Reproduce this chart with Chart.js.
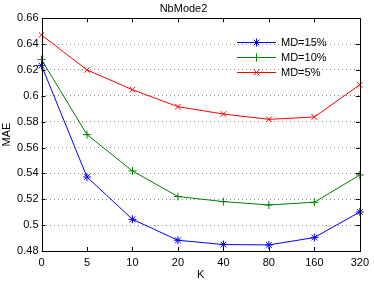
<!DOCTYPE html>
<html>
<head>
<meta charset="utf-8">
<script src="https://cdn.jsdelivr.net/npm/chart.js@4"></script>
<style>
  html, body { margin: 0; padding: 0; background: #fff; }
  #wrap { width: 374px; height: 282px; }
</style>
</head>
<body>
<div id="wrap"><canvas id="c"></canvas></div>
<script>
const kLabels = ['0', '5', '10', '20', '40', '80', '160', '320'];
const md15 = [0.6235, 0.5372, 0.5045, 0.4883, 0.4850, 0.4847, 0.4904, 0.5102];
const md10 = [0.628, 0.570, 0.5419, 0.5221, 0.5182, 0.5156, 0.5177, 0.5388];
const md5 = [0.647, 0.620, 0.6047, 0.5916, 0.5859, 0.5818, 0.5836, 0.6086];
const yTicks = [0.48, 0.5, 0.52, 0.54, 0.56, 0.58, 0.6, 0.62, 0.64, 0.66];

const FONT = 'Liberation Sans, Arial, sans-serif';

// marco, marcas interiores y leyenda al estilo matlab
const matlabBox = {
    id: 'matlabBox',
    afterDraw(chart) {
        const { ctx, chartArea: a, scales } = chart;
        ctx.save();
        ctx.strokeStyle = '#000';
        ctx.lineWidth = 1;
        ctx.beginPath();
        scales.x.ticks.forEach((t, i) => {
            const px = Math.round(scales.x.getPixelForTick(i)) + 0.5;
            ctx.moveTo(px, a.bottom); ctx.lineTo(px, a.bottom - 4);
            ctx.moveTo(px, a.top); ctx.lineTo(px, a.top + 4);
        });
        scales.y.ticks.forEach((t, i) => {
            const py = Math.round(scales.y.getPixelForTick(i)) + 0.5;
            ctx.moveTo(a.left, py); ctx.lineTo(a.left + 4, py);
            ctx.moveTo(a.right, py); ctx.lineTo(a.right - 4, py);
        });
        ctx.stroke();
        ctx.strokeRect(Math.round(a.left) + 0.5, Math.round(a.top) + 0.5,
            Math.round(a.right - a.left), Math.round(a.bottom - a.top));

        // leyenda
        const x0 = 237, x1 = 276;
        let y = 42;
        ctx.font = '11px ' + FONT;
        ctx.textBaseline = 'middle';
        chart.data.datasets.forEach(ds => {
            ctx.strokeStyle = ds.borderColor;
            ctx.lineWidth = 1;
            ctx.beginPath();
            ctx.moveTo(x0, y + 0.5); ctx.lineTo(x1, y + 0.5);
            ctx.stroke();
            Chart.helpers.drawPoint(ctx, {
                pointStyle: ds.pointStyle, radius: ds.pointRadius, borderWidth: 1
            }, (x0 + x1) / 2, y + 0.5);
            ctx.fillStyle = '#000';
            ctx.fillText(ds.label, 281, y + 1);
            y += 15;
        });
        ctx.restore();
    }
};

new Chart(document.getElementById('c'), {
    type: 'line',
    data: {
        labels: kLabels,
        datasets: [
            { label: 'MD=15%', data: md15, borderColor: '#0000ff', pointStyle: 'star' },
            { label: 'MD=10%', data: md10, borderColor: '#008000', pointStyle: 'cross' },
            { label: 'MD=5%', data: md5, borderColor: '#ff0000', pointStyle: 'crossRot' }
        ].map(d => Object.assign(d, {
            borderWidth: 1,
            pointRadius: 4,
            pointBorderWidth: 1,
            pointBorderColor: d.borderColor,
            pointBackgroundColor: d.borderColor,
            tension: 0,
            fill: false
        }))
    },
    options: {
        responsive: true,
        maintainAspectRatio: false,
        animation: false,
        layout: { padding: { top: 0, right: 7, bottom: 0, left: 0 } },
        plugins: {
            legend: { display: false },
            tooltip: { enabled: false },
            title: {
                display: true, text: 'NbMode2', color: '#000',
                font: { family: FONT, size: 11, weight: 'normal' },
                padding: { top: 2, bottom: 3 }
            }
        },
        scales: {
            x: {
                type: 'category',
                offset: false,
                grid: { display: false, drawTicks: false },
                border: { display: false },
                afterFit(scale) { scale.height = 31; },
                ticks: { color: '#000', padding: 5, font: { family: FONT, size: 11 }, maxRotation: 0 },
                title: {
                    display: true, text: 'K', color: '#000',
                    font: { family: FONT, size: 11 }, padding: { top: 0, bottom: 0 }
                }
            },
            y: {
                min: 0.48,
                max: 0.66,
                afterBuildTicks(scale) {
                    scale.ticks = yTicks.map(v => ({ value: v }));
                },
                afterFit(scale) { scale.width = 41.5; },
                grid: {
                    color: '#888', lineWidth: 1, drawTicks: false,
                    drawOnChartArea: true
                },
                border: { display: false, dash: [1, 3] },
                ticks: {
                    color: '#000', padding: 3,
                    font: { family: FONT, size: 11 },
                    callback: v => String(+v.toFixed(2))
                },
                title: {
                    display: true, text: 'MAE', color: '#000',
                    font: { family: FONT, size: 11 }, padding: { top: 0, bottom: 2 }
                }
            }
        }
    },
    plugins: [matlabBox]
});
</script>
</body>
</html>
